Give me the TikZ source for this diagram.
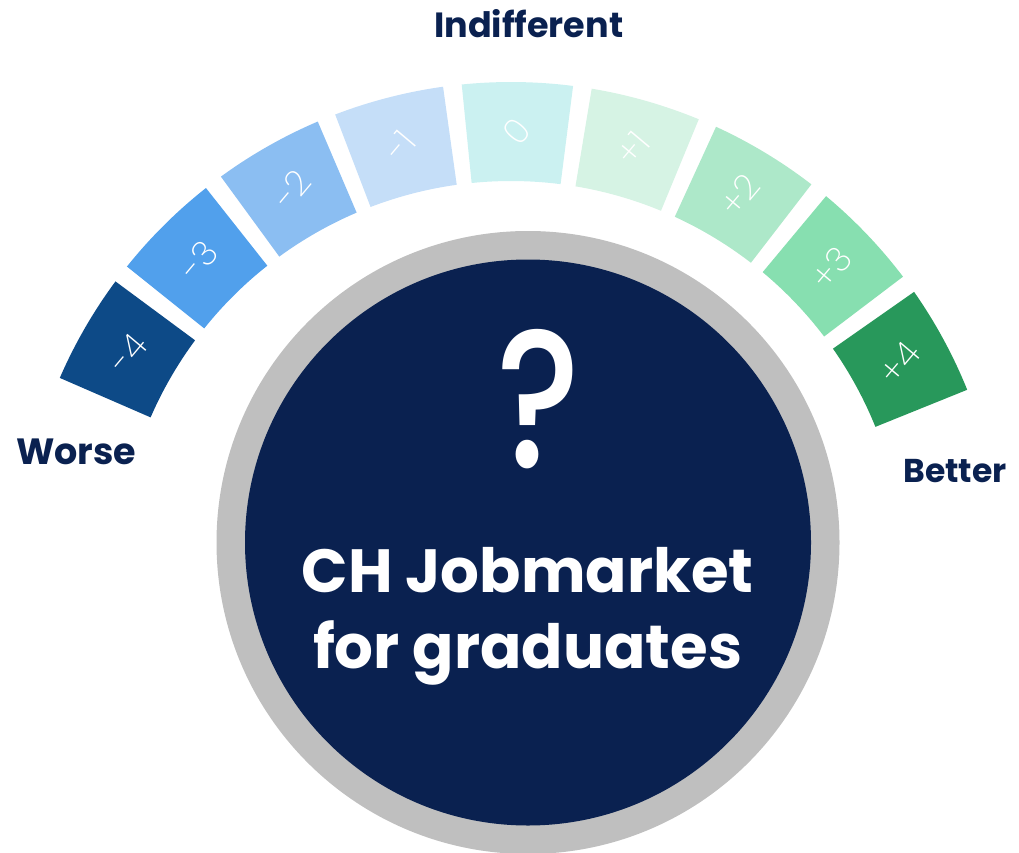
\documentclass[tikz,border=0pt]{standalone}
\usepackage{fontspec}
\setmainfont{Poppins}
\IfFontExistsTF{Poppins Bold}{\newfontfamily\boldf{Poppins Bold}}{\newfontfamily\boldf{Poppins}[FakeBold=3]}
\IfFontExistsTF{Poppins Medium}{\newfontfamily\medf{Poppins Medium}}{\newfontfamily\medf{Poppins}}
\IfFontExistsTF{Poppins ExtraLight}{\newfontfamily\lightf{Poppins ExtraLight}}{%
  \IfFontExistsTF{Poppins Light}{\newfontfamily\lightf{Poppins Light}}{\newfontfamily\lightf{Poppins}}}
\definecolor{navy}{HTML}{0A2150}
\definecolor{ringgray}{HTML}{BFBFBF}
\definecolor{cm4}{HTML}{0D4A87}
\definecolor{cm3}{HTML}{51A0EC}
\definecolor{cm2}{HTML}{8BBEF2}
\definecolor{cm1}{HTML}{C5DEF8}
\definecolor{cz}{HTML}{CBF1F1}
\definecolor{cp1}{HTML}{D6F3E4}
\definecolor{cp2}{HTML}{ADE8C9}
\definecolor{cp3}{HTML}{87DFB0}
\definecolor{cp4}{HTML}{28985B}
\tikzset{
  endlabel/.style={inner sep=0pt, text=navy, font=\boldf\fontsize{33}{33}\selectfont},
  numlabel/.style={inner sep=0pt, text=white, rotate=50, font=\lightf\fontsize{35}{35}\selectfont},
  title/.style={inner sep=0pt, text=white, font=\boldf\fontsize{61}{61}\selectfont},
}
\begin{document}
\begin{tikzpicture}[x=1pt,y=1pt]
\useasboundingbox (0,0) rectangle (1019,-853);
\coordinate (C) at (511,-574);
\coordinate (M) at (528,-542.5);
% gauge segments
\foreach \k/\col/\lab [count=\i] in {-4/cm4/{-4},-3/cm3/{-3},-2/cm2/{-2},-1/cm1/{-1},0/cz/{0},1/cp1/{+1},2/cp2/{+2},3/cp3/{+3},4/cp4/{+4}}{
  \pgfmathsetmacro{\c}{89.25-15.19*\k}
  \pgfmathsetmacro{\a}{\c-6.5}
  \pgfmathsetmacro{\b}{\c+6.5}
  \fill[\col] ([shift={(\a:393)}]C) arc[start angle=\a, end angle=\b, radius=393]
     -- ([shift={(\b:492)}]C) arc[start angle=\b, end angle=\a, radius=492] -- cycle;
  \node[numlabel] (n\i) at ([shift={(\c:442.5)}]C) {\lab};
}
% central disc
\fill[ringgray] (M) circle[radius=311.5];
\fill[navy] (M) circle[radius=283];
\node[inner sep=0pt, text=white, anchor=base, xscale=0.8, font=\medf\fontsize{196}{196}\selectfont] (q) at (539,-467) {?};
\node[title, anchor=base] (t1) at (527.5,-592) {CH Jobmarket};
\node[title, anchor=base] (t2) at (527.6,-668.7) {for graduates};
% end labels
\node[endlabel, font=\boldf\fontsize{35}{35}\selectfont, anchor=base] (ind) at (528.7,-37.3) {Indifferent};
\node[endlabel, font=\boldf\fontsize{36.5}{36.5}\selectfont, anchor=base west] (worse) at (16,-464.3) {Worse};
\node[endlabel, anchor=base west] (better) at (903.3,-482.7) {Better};
\end{tikzpicture}
\end{document}
